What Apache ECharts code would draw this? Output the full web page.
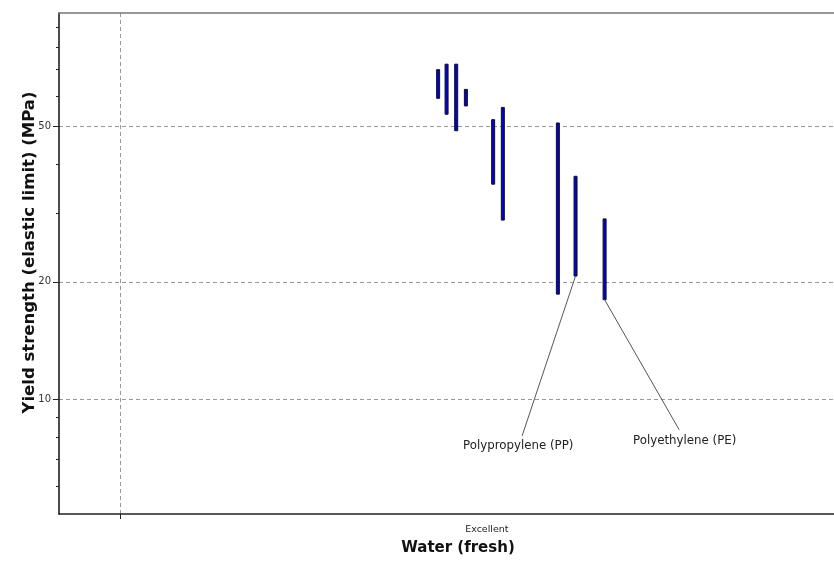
<!DOCTYPE html>
<html>
<head>
<meta charset="utf-8">
<script src="https://cdn.jsdelivr.net/npm/echarts@6/dist/echarts.min.js"></script>
<style>html,body{margin:0;padding:0;background:#fff;}#c{width:834px;height:561px;}</style>
</head>
<body>
<div id="c"></div>
<script>
// Bars: x position (rating axis units), low and high yield strength (MPa)
const barX    = [48.92, 50.01, 51.25, 52.50, 56.02, 57.27, 64.37, 66.65, 70.40];
const barLow  = [59.1, 53.8, 48.8, 56.5, 35.6, 28.8, 18.6, 20.7, 18.0];
const barHigh = [70.0, 72.3, 72.3, 62.3, 52.1, 56.0, 51.1, 37.3, 29.0];

// Annotations
const annNames  = ['Polypropylene (PP)', 'Polyethylene (PE)'];
const annFromX  = [66.65, 70.40];
const annFromY  = [20.7, 18.0];
const annToX    = [59.76, 80.03];
const annToY    = [8.06, 8.35];
const annTextX  = [59.25, 80.73];
const annTextY  = [7.58, 7.81];

// Axes
const yMajorTicks = [10, 20, 50];
const yMinorTicks = [6, 7, 8, 9, 30, 40, 60, 70, 80, 90];
const yMin = 5.08, yMax = 97.8;
const xGridTicks = [7.84];
const xCatLabelPos = [55.21];
const xCatLabels = ['Excellent'];

const FONT = 'DejaVu Sans';
const chart = echarts.init(document.getElementById('c'));

const barData = barX.map((x, i) => [x, barLow[i], barHigh[i]]);
const annData = annNames.map((n, i) => [annFromX[i], annFromY[i], annToX[i], annToY[i], annTextX[i], annTextY[i], i]);

chart.setOption({
  animation: false,
  grid: { left: 59, right: 0, top: 13, bottom: 42 },
  xAxis: [{
    type: 'value', min: 0, max: 100, position: 'bottom',
    axisLine: { show: true, lineStyle: { color: '#222', width: 1.5 } },
    axisTick: { show: true, customValues: xGridTicks, length: 5, inside: false, lineStyle: { color: '#222' } },
    splitLine: { show: true, lineStyle: { type: [4, 3], color: '#999', width: 1 } },
    axisLabel: {
      show: true, customValues: xCatLabelPos,
      formatter: function (v) { const k = xCatLabelPos.indexOf(v); return k >= 0 ? xCatLabels[k] : ''; },
      fontFamily: FONT, fontSize: 9.5, color: '#222', margin: 11
    },
    name: 'Water (fresh)', nameLocation: 'middle', nameGap: 27,
    nameTextStyle: { fontFamily: FONT, fontSize: 15, fontWeight: 'bold', color: '#111', padding: [0, 0, 0, 23] }
  }, {
    type: 'value', min: 0, max: 100, position: 'top',
    axisLine: { show: true, lineStyle: { color: '#777', width: 1.5 } },
    axisTick: { show: false }, axisLabel: { show: false }, splitLine: { show: false }
  }],
  yAxis: [{
    type: 'log', logBase: 10, min: yMin, max: yMax, position: 'left',
    axisLine: { show: true, lineStyle: { color: '#111', width: 1.5 } },
    axisTick: { show: true, customValues: yMajorTicks, length: 6, lineStyle: { color: '#222' } },
    splitLine: { show: true, lineStyle: { type: [4, 3], color: '#999', width: 1 } },
    axisLabel: { show: true, customValues: yMajorTicks, fontFamily: FONT, fontSize: 10, color: '#333', margin: 8 },
    name: 'Yield strength (elastic limit) (MPa)', nameLocation: 'middle', nameGap: 21, nameMoveOverlap: false,
    nameTextStyle: { fontFamily: FONT, fontSize: 16.5, fontWeight: 'bold', color: '#111', padding: [0, 0, 0, 22] }
  }, {
    type: 'log', logBase: 10, min: yMin, max: yMax, position: 'left',
    axisLine: { show: false },
    axisTick: { show: true, customValues: yMinorTicks, length: 3, lineStyle: { color: '#222' } },
    splitLine: { show: false },
    axisLabel: { show: false }
  }],
  series: [{
    type: 'custom', xAxisIndex: 0, yAxisIndex: 0,
    data: barData,
    renderItem: function (params, api) {
      const p1 = api.coord([api.value(0), api.value(2)]);
      const p2 = api.coord([api.value(0), api.value(1)]);
      return {
        type: 'rect',
        shape: { x: p1[0] - 1.5, y: p1[1], width: 3, height: p2[1] - p1[1] },
        style: { fill: '#0000dd', stroke: '#111', lineWidth: 1 }
      };
    },
    encode: { x: 0, y: [1, 2] }
  }, {
    type: 'custom', xAxisIndex: 0, yAxisIndex: 0,
    data: annData,
    renderItem: function (params, api) {
      const a = api.coord([api.value(0), api.value(1)]);
      const b = api.coord([api.value(2), api.value(3)]);
      const t = api.coord([api.value(4), api.value(5)]);
      return {
        type: 'group',
        children: [{
          type: 'line',
          shape: { x1: a[0], y1: a[1], x2: b[0], y2: b[1] },
          style: { stroke: '#555', lineWidth: 1 }
        }, {
          type: 'text',
          x: t[0], y: t[1],
          style: { text: annNames[api.value(6)], fontFamily: FONT, fontSize: 11.8, fill: '#222', align: 'center', verticalAlign: 'middle' }
        }]
      };
    },
    encode: { x: 0, y: 1 }
  }]
});
</script>
</body>
</html>
